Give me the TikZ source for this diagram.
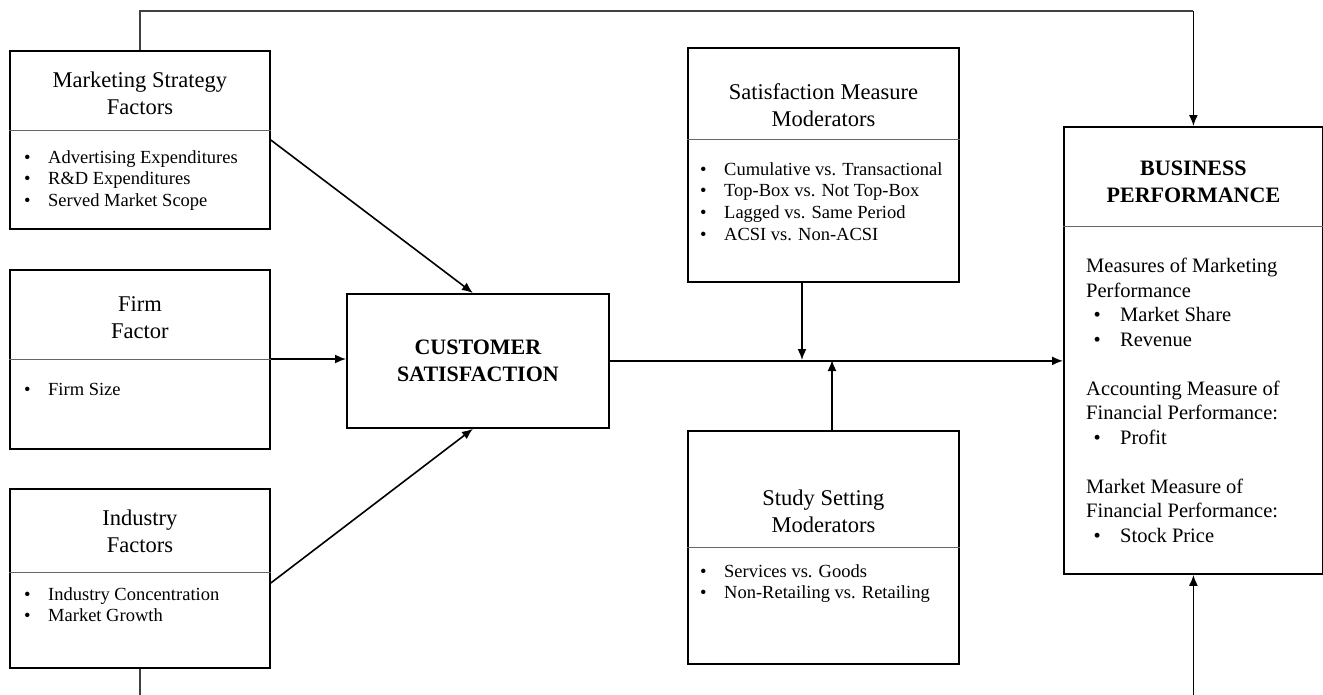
\documentclass[tikz,border=0pt]{standalone}
\usepackage{fontspec}
\setmainfont{Liberation Serif}
\usetikzlibrary{positioning,calc,arrows.meta}
\tikzstyle{a}=[anchor=north west]
\tikzstyle{box}=[a,draw,rectangle,line width=1.8pt,inner sep=0pt]
\tikzstyle{div}=[draw,line width=1pt,color=black!60]
\tikzstyle{ttl}=[anchor=south,align=center,inner sep=0pt,font=\fontsize{22.5}{27}\selectfont]
\tikzstyle{hdr}=[align=center,inner sep=0pt,font=\fontsize{22}{27}\selectfont\bfseries]
\tikzstyle{lst}=[a,align=left,inner sep=0pt,font=\fontsize{18.5}{21.8}\selectfont]
\tikzstyle{res}=[a,align=left,inner sep=0pt,font=\fontsize{20.5}{24.5}\selectfont]
\tikzstyle{arrow}=[draw,-{Latex[length=11pt,width=9pt]},line width=1.6pt]
\tikzstyle{link}=[draw,line width=1.2pt,color=black!75]
\newcommand{\bul}{\makebox[24pt][l]{\textbullet}}
\newcommand{\sbul}{\hspace*{7.5pt}\makebox[26.5pt][l]{\textbullet}}

\begin{document}
\begin{tikzpicture}[x=1pt,y=-1pt]
  \useasboundingbox (0,0) rectangle (1323,694);

  % Factors
  \node [box,minimum width=260,minimum height=178] (ms) at (9,50) {};
  \coordinate (msd) at (9,130);
  \draw [div] (msd) -- (msd-|ms.east);
  \node [ttl] (mst) at ($(msd-|ms.center)+(0,-15)$) {Marketing Strategy\\Factors};
  \node [lst] (msl) at ($(msd)+(15,20)$) {\bul Advertising Expenditures\\\bul R\&D Expenditures\\\bul Served Market Scope};

  \node [box,minimum width=260,minimum height=179] (fm) at (9,269) {};
  \coordinate (fmd) at (9,359);
  \draw [div] (fmd) -- (fmd-|fm.east);
  \node [ttl] (fmt) at ($(fmd-|fm.center)+(0,-20)$) {Firm\\Factor};
  \node [lst] (fml) at ($(fmd)+(15,24)$) {\bul Firm Size};

  \node [box,minimum width=260,minimum height=179] (ind) at (9,488) {};
  \coordinate (indd) at (9,572);
  \draw [div] (indd) -- (indd-|ind.east);
  \node [ttl] (indt) at ($(indd-|ind.center)+(0,-19)$) {Industry\\Factors};
  \node [lst] (indl) at ($(indd)+(15,15)$) {\bul Industry Concentration\\\bul Market Growth};

  % Satisfaction
  \node [box,minimum width=262,minimum height=134] (cs) at (346,293) {};
  \node [hdr] (cst) at (cs.center) {CUSTOMER\\SATISFACTION};

  % Moderators
  \node [box,minimum width=271,minimum height=234] (smm) at (687,47) {};
  \coordinate (smmd) at (687,139);
  \draw [div] (smmd) -- (smmd-|smm.east);
  \node [ttl] (smmt) at ($(smmd-|smm.center)+(0,-12)$) {Satisfaction Measure\\Moderators};
  \node [lst] (smml) at ($(smmd)+(13,23)$) {\bul Cumulative vs. Transactional\\\bul Top-Box vs. Not Top-Box\\\bul Lagged vs. Same Period\\\bul ACSI vs. Non-ACSI};

  \node [box,minimum width=271,minimum height=233] (ssm) at (687,430) {};
  \coordinate (ssmd) at (687,547);
  \draw [div] (ssmd) -- (ssmd-|ssm.east);
  \node [ttl] (ssmt) at ($(ssmd-|ssm.center)+(0,-14)$) {Study Setting\\Moderators};
  \node [lst] (ssml) at ($(ssmd)+(13,17)$) {\bul Services vs. Goods\\\bul Non-Retailing vs. Retailing};

  % Performance
  \node [box,minimum width=259,minimum height=447] (bp) at (1063,126) {};
  \coordinate (bpd) at (1063,226);
  \draw [div] (bpd) -- (bpd-|bp.east);
  \node [hdr,anchor=south] (bpt) at ($(bpd-|bp.center)+(0,-23)$) {BUSINESS\\PERFORMANCE};
  \node [res] (bpl) at ($(bpd)+(23,32)$) {Measures of Marketing\\Performance\\\sbul Market Share\\\sbul Revenue\\[24.5pt]Accounting Measure of\\Financial Performance:\\\sbul Profit\\[24.5pt]Market Measure of\\Financial Performance:\\\sbul Stock Price};

  % Links
  \coordinate (topl) at (0,11);
  \coordinate (botl) at (0,700);
  \coordinate (j1) at (802,360);
  \coordinate (j2) at (832,360);

  \draw [arrow] ($(msd-|ms.east)+(0,10)$) -- ($(cs.north)+(-5,0)$);
  \draw [arrow] (fmd-|fm.east) -- (fmd-|cs.west);
  \draw [arrow] ($(indd-|ind.east)+(0,11)$) -- ($(cs.south)+(-5,0)$);
  \draw [arrow] (cs.east) -- (cs.east-|bp.west);
  \draw [arrow] (smm.south-|j1) -- (j1);
  \draw [arrow] (ssm.north-|j2) -- (j2);
  \draw [link] (ms.north) |- (bp.north|-topl);
  \draw [arrow] (bp.north|-topl) -- (bp.north);
  \draw [link] (ind.south) -- (ind.south|-botl);
  \draw [arrow] (bp.south|-botl) -- (bp.south);
\end{tikzpicture}
\end{document}
